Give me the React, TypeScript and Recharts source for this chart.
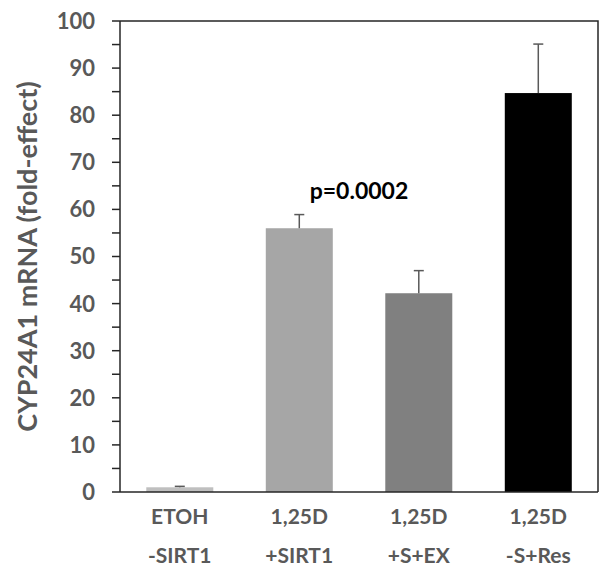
import { Bar, BarChart, Cell, ReferenceLine, XAxis, YAxis } from "recharts"

const groups = ["ETOH\n-SIRT1", "1,25D\n+SIRT1", "1,25D\n+S+EX", "1,25D\n-S+Res"]
const foldEffect = [1.0, 56.0, 42.2, 84.7]
const errUp = [0.2, 2.9, 4.8, 10.4]
const barColors = ["#bfbfbf", "#a6a6a6", "#808080", "#000000"]
const yTicks = [0, 5, 10, 15, 20, 25, 30, 35, 40, 45, 50, 55, 60, 65, 70, 75, 80, 85, 90, 95, 100]
const pLabel = "p=0.0002"
const pLevel = 64

const data = groups.map((g, i) => ({ group: g, value: foldEffect[i], err: errUp[i] }))

const W = 604
const H = 567
const margin = { top: 21, right: 6, left: 0, bottom: 0 }
const yAxisWidth = 120
const xAxisHeight = 75
const plotW = W - margin.left - margin.right - yAxisWidth
const plotH = H - margin.top - margin.bottom - xAxisHeight

const font = "Lato, 'Open Sans', sans-serif"
const axisColor = "#262626"
const textColor = "#595959"

function GroupTick(props: any) {
  const { x, y, payload } = props
  const lines = String(payload.value).split("\n")
  return (
    <g>
      {lines.map((t, i) => (
        <text
          key={i}
          x={x}
          y={y + 24 + i * 39}
          textAnchor="middle"
          fill={textColor}
          fontFamily={font}
          fontWeight="bold"
          fontSize={21}
        >
          {t}
        </text>
      ))}
    </g>
  )
}

// y tick label; the top tick also draws the frame's top and right edges
function ValueTick(props: any) {
  const { x, y, payload } = props
  const v = payload.value
  const axisX = margin.left + yAxisWidth
  return (
    <g>
      {v === 100 && (
        <path
          d={`M${axisX},${y} H${axisX + plotW} V${y + plotH}`}
          fill="none"
          stroke={axisColor}
          strokeWidth={1.5}
        />
      )}
      {v % 10 === 0 && (
        <text
          x={x}
          y={y}
          dy="0.36em"
          textAnchor="end"
          fill={textColor}
          fontFamily={font}
          fontWeight="bold"
          fontSize={22}
        >
          {v}
        </text>
      )}
    </g>
  )
}

function BarWithError(props: any) {
  const { x, y, width, height, fill, payload } = props
  const pxPerUnit = payload.value ? height / payload.value : 0
  const cx = x + width / 2
  const top = y - payload.err * pxPerUnit
  return (
    <g>
      <rect x={x} y={y} width={width} height={height} fill={fill} />
      <line x1={cx} y1={y} x2={cx} y2={top} stroke={textColor} strokeWidth={1.5} />
      <line x1={cx - 5} y1={top} x2={cx + 5} y2={top} stroke={textColor} strokeWidth={1.5} />
    </g>
  )
}

export default function App() {
  return (
    <div style={{ position: "absolute", left: 0, top: 0, width: W, height: H, background: "#fff" }}>
      <BarChart width={W} height={H} data={data} margin={margin} barCategoryGap="22%">
        <XAxis
          dataKey="group"
          height={xAxisHeight}
          tick={<GroupTick />}
          tickLine={false}
          axisLine={{ stroke: axisColor, strokeWidth: 1.5 }}
          interval={0}
        />
        <YAxis
          domain={[0, 100]}
          ticks={yTicks}
          interval={0}
          width={yAxisWidth}
          tickSize={8}
          tickMargin={17}
          tickLine={{ stroke: axisColor, strokeWidth: 1.5 }}
          axisLine={{ stroke: axisColor, strokeWidth: 1.5 }}
          tick={<ValueTick />}
          label={{
            value: "CYP24A1 mRNA (fold-effect)",
            angle: -90,
            position: "center",
            dx: -33,
            fill: textColor,
            fontFamily: font,
            fontWeight: "bold",
            fontSize: 27,
          }}
        />
        <ReferenceLine
          y={pLevel}
          stroke="none"
          label={{
            value: pLabel,
            position: "center",
            fill: "#000",
            fontFamily: font,
            fontWeight: "bold",
            fontSize: 23,
          }}
        />
        <Bar dataKey="value" isAnimationActive={false} shape={<BarWithError />}>
          {data.map((d, i) => (
            <Cell key={d.group} fill={barColors[i]} />
          ))}
        </Bar>
      </BarChart>
    </div>
  )
}
